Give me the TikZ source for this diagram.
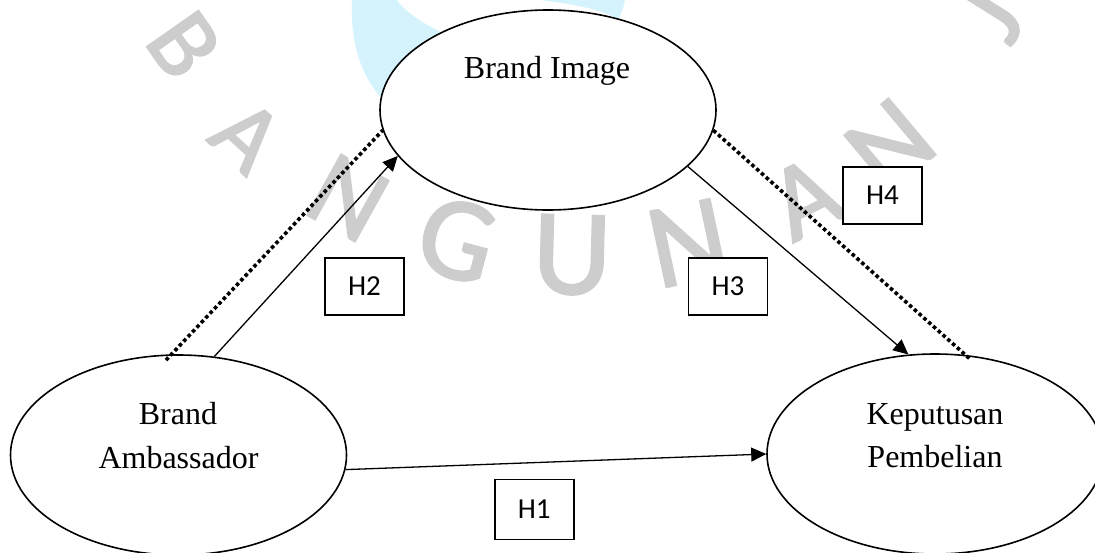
\documentclass[tikz,border=0pt]{standalone}
\usepackage{fontspec}
\setmainfont{Liberation Serif}
\newfontfamily\hfont{Carlito}
\newfontfamily\wmfont[FakeBold=2]{Carlito}
\usetikzlibrary{shapes.geometric,arrows.meta}
\definecolor{wmgray}{RGB}{205,205,205}
\definecolor{logocyan}{RGB}{212,243,252}
\tikzset{
  construct/.style={ellipse, draw, fill=white, line width=0.8pt,
    minimum width=168pt, minimum height=100pt, inner sep=0pt},
  lbl/.style={font=\fontsize{16}{19}\selectfont, inner sep=0pt, anchor=base},
  hbox/.style={draw, fill=white, line width=0.75pt, minimum width=39.5pt,
    minimum height=28.5pt, inner sep=0pt, font=\hfont\fontsize{14.5}{17}\selectfont},
  arr/.style={line width=0.65pt, -{Triangle[length=7.5pt,width=7pt]}},
  dotline/.style={line width=1.8pt, dash pattern=on 1.8pt off 1.4pt},
  wm/.style={text=wmgray, inner sep=0pt, anchor=center},
}
\begin{document}
\begin{tikzpicture}[x=0.5pt,y=-0.5pt]
\path[use as bounding box, fill=white] (0,0) rectangle (1095,552);

% logo swoosh behind the upper construct
\fill[logocyan] (352,0) .. controls (350,45) and (362,80) .. (388,105)
  -- (440,60) -- (445,34) .. controls (425,25) and (405,12) .. (397,0) -- cycle;
\fill[logocyan] (540,0) .. controls (575,4) and (600,10) .. (612,16)
  -- (618,20) .. controls (622,12) and (624,6) .. (625,0) -- cycle;

% watermark lettering along an arc
\node[wm, rotate=-55,  font=\wmfont\fontsize{49}{49}\selectfont] (wm1) at (184,45) {B};
\node[wm, rotate=-42.5,font=\wmfont\fontsize{48}{48}\selectfont] (wm2) at (247,136) {A};
\node[wm, rotate=-29,  font=\wmfont\fontsize{54}{54}\selectfont] (wm3) at (348,198) {N};
\node[wm, rotate=-15,  font=\wmfont\fontsize{59}{59}\selectfont] (wm4) at (457,240) {G};
\node[wm, rotate=-1.5, font=\wmfont\fontsize{61}{61}\selectfont] (wm5) at (572,255) {U};
\node[wm, rotate=12,   font=\wmfont\fontsize{60}{60}\selectfont] (wm6) at (688,243) {N};
\node[wm, rotate=27,   font=\wmfont\fontsize{54}{54}\selectfont] (wm7) at (805,198) {A};
\node[wm, rotate=40,   font=\wmfont\fontsize{57}{57}\selectfont] (wm8) at (890,145) {N};
\node[wm, rotate=58,   font=\wmfont\fontsize{54}{54}\selectfont] (wm9) at (990,15) {J};

% constructs
\node[construct] (bi) at (548,110) {};
\node[construct] (ba) at (178.5,455) {};
\node[construct] (kp) at (935,454) {};

\node[lbl] (bi-t)  at (547,78)    {Brand Image};
\node[lbl] (ba-t1) at (178,424)   {Brand};
\node[lbl] (ba-t2) at (178.5,468) {Ambassador};
\node[lbl] (kp-t1) at (935,424)   {Keputusan};
\node[lbl] (kp-t2) at (935,467)   {Pembelian};

% hypothesis labels
\node[hbox] (h1) at (534.3,509.5) [minimum height=30pt] {H1};
\node[hbox] (h2) at (364.5,286.5) {H2};
\node[hbox] (h3) at (728,286.5)   {H3};
\node[hbox] (h4) at (882.5,195.5) {H4};

% direct paths
\draw[arr] (ba.70) -- (bi.197.8);
\draw[arr] (bi.-22.5) -- (kp.105.6);
\draw[arr] (ba.-5) -- (kp.west);

% mediated path
\draw[dotline, shorten <=-4pt] (ba.94) -- (bi.187.7);
\draw[dotline, shorten >=-3pt] (bi.-7.5) -- (kp.73);
\end{tikzpicture}
\end{document}
